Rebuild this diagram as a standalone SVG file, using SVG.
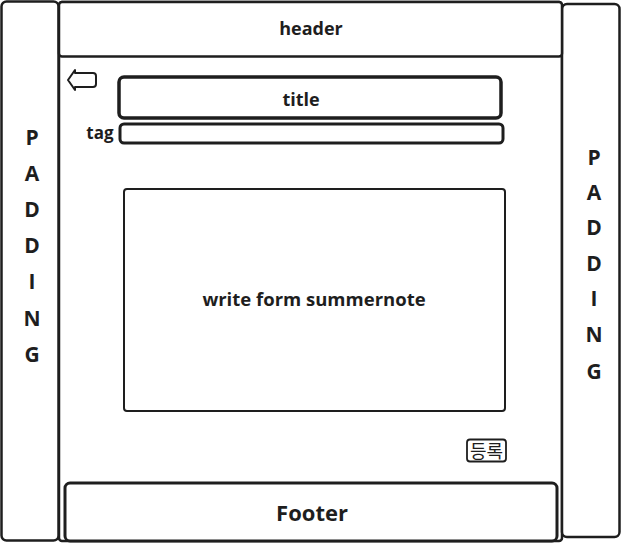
<svg xmlns="http://www.w3.org/2000/svg" width="622" height="543" viewBox="0 0 622 543">
  <style>
    .box { fill: #ffffff; stroke: #1e1e1e; stroke-linejoin: round; }
    .lbl { font-family: "Open Sans", "Liberation Sans", sans-serif; font-weight: 700; fill: #1e1e1e; text-anchor: middle; }
    .pad { font-family: "Open Sans", "Liberation Sans", sans-serif; font-weight: 700; font-size: 21px; fill: #1e1e1e; text-anchor: middle; }
  </style>
  <rect width="622" height="543" fill="#ffffff"/>

  <!-- main content frame -->
  <g id="main">
    <rect class="box" x="59" y="2" width="503" height="539" rx="3" stroke-width="2.5"/>
  </g>

  <g id="padding-left">
    <rect class="box" x="1.5" y="1.5" width="57" height="539" rx="5" stroke-width="2.5"/>
    <text class="pad" x="32" y="145">P</text>
    <text class="pad" x="32" y="181">A</text>
    <text class="pad" x="32" y="217">D</text>
    <text class="pad" x="32" y="253">D</text>
    <text class="pad" x="32" y="289">I</text>
    <text class="pad" x="32" y="326">N</text>
    <text class="pad" x="32" y="362">G</text>
  </g>

  <g id="padding-right">
    <rect class="box" x="562" y="4" width="57.5" height="533" rx="5" stroke-width="2.5"/>
    <text class="pad" x="594" y="165">P</text>
    <text class="pad" x="594" y="200">A</text>
    <text class="pad" x="594" y="235">D</text>
    <text class="pad" x="594" y="271">D</text>
    <text class="pad" x="594" y="306">I</text>
    <text class="pad" x="594" y="342">N</text>
    <text class="pad" x="594" y="379">G</text>
  </g>

  <g id="header">
    <rect class="box" x="59" y="2" width="503" height="54.5" rx="3" stroke-width="2.5"/>
    <text class="lbl" x="311" y="35" font-size="18">header</text>
  </g>

  <g id="back-button">
    <path class="box" d="M68,80 L75,70 L75,73 L93,73 Q96,73 96,76 L96,84 Q96,87 93,87 L75,87 L75,90 Z" stroke-width="2"/>
  </g>

  <g id="title">
    <rect class="box" x="119" y="77" width="382" height="41" rx="5" stroke-width="3.5"/>
    <text class="lbl" x="301" y="106" font-size="18">title</text>
  </g>

  <g id="tag">
    <text class="lbl" x="100" y="139" font-size="17">tag</text>
    <rect class="box" x="120" y="124" width="383" height="19" rx="4" stroke-width="3"/>
  </g>

  <g id="editor">
    <rect class="box" x="124" y="189" width="381" height="222" rx="3" stroke-width="2"/>
    <text class="lbl" x="314" y="306" font-size="18.5">write form summernote</text>
  </g>

  <g id="submit">
    <rect class="box" x="467" y="439.5" width="39" height="22" rx="3" stroke-width="1.8"/>
    <text x="486.5" y="457.5" font-family="'Noto Sans CJK KR', sans-serif" font-size="18" fill="#1e1e1e" text-anchor="middle">등록</text>
  </g>

  <g id="footer">
    <rect class="box" x="65" y="483" width="492" height="58" rx="5" stroke-width="3"/>
    <text class="lbl" x="312" y="521" font-size="22">Footer</text>
  </g>
</svg>
